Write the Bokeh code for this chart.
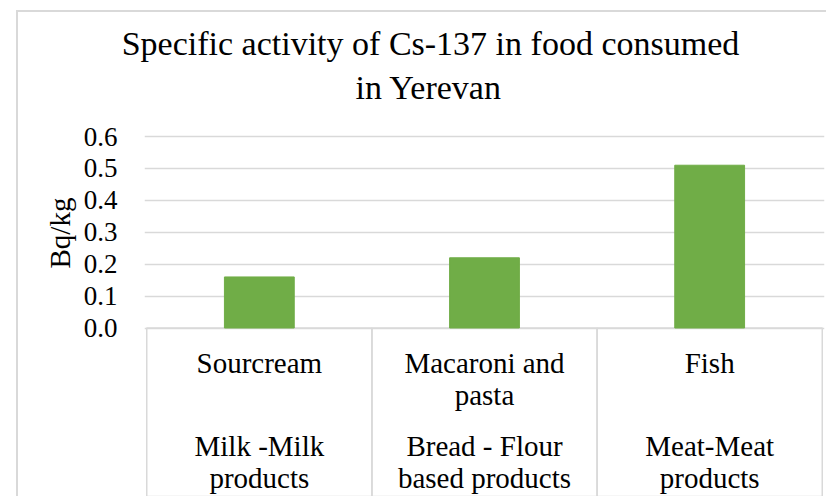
from bokeh.plotting import figure
from bokeh.models import FactorRange, Range1d, FixedTicker, Title
from bokeh.layouts import column
from bokeh.embed import file_html
from bokeh.resources import INLINE
from bokeh.core.properties import value

# ---- data ----
items = ["Sourcream", "Macaroni and\npasta", "Fish"]
groups = ["Milk -Milk\nproducts", "Bread - Flour\nbased products", "Meat-Meat\nproducts"]
activity = [0.16, 0.22, 0.51]
y_ticks = [0.0, 0.1, 0.2, 0.3, 0.4, 0.5, 0.6]
y_tick_labels = ["0.0", "0.1", "0.2", "0.3", "0.4", "0.5", "0.6"]
title_line1 = "Specific activity of Cs-137 in food consumed"
title_line2 = "in Yerevan"
y_label = "Bq/kg"

FONT = "Liberation Serif"
GRID = "#d9d9d9"
BAR = "#70AD47"
TXT = "#000000"

xr = FactorRange(factors=items, range_padding=0.01, range_padding_units="absolute")

p = figure(width=808, height=484, x_range=xr, y_range=Range1d(-0.5279, 0.694),
           output_backend="svg", toolbar_location=None, x_axis_location=None,
           min_border_left=126, min_border_right=2, min_border_top=94,
           min_border_bottom=0, outline_line_color=None)

# category boxes below the value axis
p.vbar(x=items, top=0, bottom=-2, width=1.0, fill_color=None,
       line_color=GRID, line_width=1.5)
# bars
p.vbar(x=items, top=activity, width=0.31, color=BAR)

p.xgrid.grid_line_color = None
p.ygrid.grid_line_color = GRID
p.ygrid.grid_line_width = 1.5
ax = p.yaxis[0]
ax.ticker = FixedTicker(ticks=y_ticks)
p.ygrid.ticker = FixedTicker(ticks=y_ticks)
ax.major_label_overrides = {t: l for t, l in zip(y_ticks, y_tick_labels)}
ax.axis_line_color = None
ax.major_tick_line_color = None
ax.minor_tick_line_color = None
ax.major_tick_out = 0
ax.major_tick_in = 0
ax.major_label_standoff = 27
ax.major_label_text_font = FONT
ax.major_label_text_font_size = "27px"
ax.major_label_text_color = TXT

# category labels
p.text(x=items, y=-0.058, text=items, text_align="center", text_baseline="top",
       text_font=value(FONT), text_font_size="29px", text_line_height=1.0,
       text_color=TXT)
p.text(x=items, y=-0.318, text=groups, text_align="center", text_baseline="top",
       text_font=value(FONT), text_font_size="29px", text_line_height=1.0,
       text_color=TXT)

# titles
p.add_layout(Title(text=title_line2, align="left", offset=211, standoff=2,
                   text_font=FONT, text_font_size="34px", text_font_style="normal",
                   text_color=TXT), "above")
p.add_layout(Title(text=title_line1, align="left", offset=-22.8, standoff=7,
                   text_font=FONT, text_font_size="34px", text_font_style="normal",
                   text_color=TXT), "above")
p.add_layout(Title(text=y_label, align="left", offset=228, standoff=10,
                   text_font=FONT, text_font_size="29px", text_font_style="normal",
                   text_color=TXT), "left")

layout = column(p, spacing=0, margin=(10, 0, 0, 16),
                styles={"border-left": "2px solid #d9d9d9",
                        "border-top": "2px solid #d9d9d9"})

open("out.html", "w").write(file_html(layout, INLINE))
